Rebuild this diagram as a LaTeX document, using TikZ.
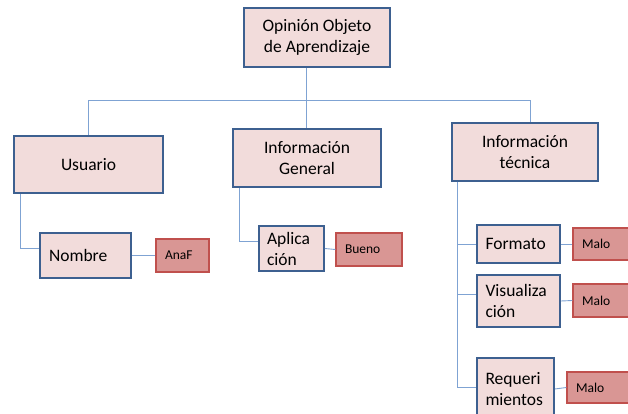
\documentclass[tikz,border=0pt]{standalone}
\usepackage{fontspec}
\setmainfont{Carlito}
\usetikzlibrary{positioning}
\definecolor{boxfill}{HTML}{F2DCDB}
\definecolor{boxline}{HTML}{3D6090}
\definecolor{valfill}{HTML}{D99694}
\definecolor{valline}{HTML}{C0504D}
\definecolor{linkblue}{HTML}{7FA3D3}
\tikzset{
    x=1pt, y=-1pt, % one unit is one pixel of the reference
    catbox/.style={draw=boxline, fill=boxfill, line width=1.7pt, align=center, font=\fontsize{17.5}{21}\selectfont, inner sep=0pt}, % the big category boxes
    itembox/.style={draw=boxline, fill=boxfill, line width=1.7pt, align=left, font=\fontsize{17.5}{21}\selectfont, inner sep=0pt}, % the leaf boxes
    valbox/.style={draw=valline, fill=valfill, line width=1.4pt, align=left, font=\fontsize{13.5}{16}\selectfont, inner sep=0pt}, % the answer boxes
    link/.style={draw=linkblue, line width=0.9pt}, % connecting lines
}
\begin{document}
\begin{tikzpicture}
\useasboundingbox (0,0) rectangle (628,414);
\clip (0,0) rectangle (628,414);
% category level
\node[catbox, minimum width=146pt, minimum height=59pt] (root) at (317,37.5) {Opinión Objeto\\de Aprendizaje};
\node[catbox, minimum width=149pt, minimum height=57pt] (usuario) at (88.5,164.5) {Usuario};
\node[catbox, minimum width=148pt, minimum height=58pt] (general) at (307,158) {Información\\General};
\node[catbox, minimum width=146pt, minimum height=58pt] (tecnica) at (525,152) {Información\\técnica};
% leaf level
\node[itembox, minimum width=91pt, minimum height=45pt, text width=73pt] (nombre) at (85.5,255.5) {Nombre};
\node[itembox, minimum width=65pt, minimum height=45pt, text width=49pt] (aplic) at (291.5,248.5) {Aplica\\ción};
\node[itembox, minimum width=83pt, minimum height=38pt, text width=66pt] (formato) at (518.5,244) {Formato};
\node[itembox, minimum width=83pt, minimum height=52pt, text width=66pt] (visual) at (518.5,301) {Visualiza\\ción};
\node[itembox, minimum width=77pt, minimum height=62pt, text width=60pt] (requeri) at (515.5,389) {Requeri\\mientos};
% answers
\node[valbox, minimum width=53pt, minimum height=33pt, text width=35pt] (anaf) at (182.5,255.5) {AnaF};
\node[valbox, minimum width=66pt, minimum height=33pt, text width=48pt] (bueno) at (369,249.5) {Bueno};
\node[valbox, minimum width=67pt, minimum height=32pt, text width=49pt] (malo1) at (606.5,244) {Malo};
\node[valbox, minimum width=67pt, minimum height=33pt, text width=49pt] (malo2) at (606.5,300.5) {Malo};
\node[valbox, minimum width=73pt, minimum height=31pt, text width=55pt] (malo3) at (603.5,387.5) {Malo};
% tree lines
\coordinate (hub) at (306,100);
\draw[link] ([xshift=-11pt]root.south) -- (hub);
\draw[link] (hub) -| (usuario.north);
\draw[link] (hub) -| ([xshift=5pt]tecnica.north);
\draw[link] (hub) -- (general.north -| hub);
\draw[link] ([xshift=7pt]usuario.south west) |- ([yshift=7.5pt]nombre.west);
\draw[link] ([xshift=7pt]general.south west) |- ([yshift=7.5pt]aplic.west);
\draw[link] ([xshift=6pt]tecnica.south west) |- (formato.west);
\draw[link] ([xshift=6pt]tecnica.south west) |- ([yshift=7pt]visual.west);
\draw[link] ([xshift=6pt]tecnica.south west) |- ([yshift=2pt]requeri.west);
\draw[link] (nombre.east) -- (anaf.west);
\draw[link] (aplic.east) -- (bueno.west);
\draw[link] (formato.east) -- (malo1.west);
\draw[link] (visual.east) -- (malo2.west);
\draw[link] (requeri.east) -- (malo3.west);
\end{tikzpicture}
\end{document}
